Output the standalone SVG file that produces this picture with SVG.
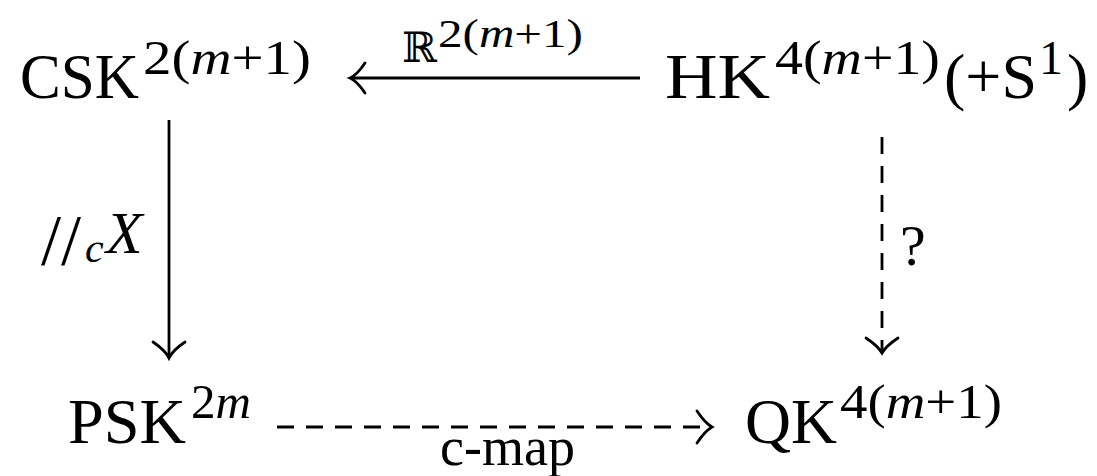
<svg xmlns="http://www.w3.org/2000/svg" width="1097" height="476" viewBox="0 0 1097 476">
<style>
text{font-family:"Liberation Serif","Times New Roman",serif;fill:#000}
.main{font-size:64px}
.sup{font-size:48px}
.lab{font-size:54px}
.it{font-style:italic}
.line{stroke:#000;stroke-width:2.8;fill:none}
.dash{stroke-dasharray:17 12}
.head{stroke:#000;stroke-width:2.8;fill:none;stroke-linecap:round}
</style>
<rect width="1097" height="476" fill="#fff"/>
<g id="connectors">
  <g id="e-top">
    <line class="line" x1="640" y1="78" x2="351" y2="78"/>
    <path class="head" d="M365,63 Q357,75 350,78 Q357,81 365,93"/>
  </g>
  <g id="e-left">
    <line class="line" x1="169" y1="120" x2="169" y2="356"/>
    <path class="head" d="M153,342 Q165,350 169,358 Q173,350 185,342"/>
  </g>
  <g id="e-right">
    <line class="line dash" x1="882" y1="137" x2="882" y2="350"/>
    <path class="head" d="M866,338 Q878,346 882,353 Q886,346 898,338"/>
  </g>
  <g id="e-bottom">
    <line class="line dash" x1="277" y1="427" x2="709" y2="427"/>
    <path class="head" d="M697,411 Q705,423 712,427 Q705,431 697,443"/>
  </g>
  <g id="labels">
    <text x="402" y="62" style="font-family:'DejaVu Serif',serif;font-size:42px">ℝ</text>
    <text x="438" y="47" style="font-size:40px" textLength="145" lengthAdjust="spacingAndGlyphs">2(<tspan class="it">m</tspan>+1)</text>
    <text x="41" y="264" style="font-size:72px">//</text>
    <text x="85" y="262" style="font-size:42px" class="it">c</text>
    <text x="106" y="253" style="font-size:60px" class="it">X</text>
    <text x="900" y="265" style="font-size:58px">?</text>
    <text x="440" y="465" class="lab">c-map</text>
  </g>
</g>
<g id="n-csk">
  <text x="20" y="98" class="main" textLength="119" lengthAdjust="spacingAndGlyphs">CSK</text>
  <text x="143" y="74" class="sup" textLength="168" lengthAdjust="spacingAndGlyphs">2(<tspan class="it">m</tspan>+1)</text>
</g>
<g id="n-hk">
  <text x="665" y="98" class="main" textLength="105" lengthAdjust="spacingAndGlyphs">HK</text>
  <text x="775" y="74" class="sup" textLength="165" lengthAdjust="spacingAndGlyphs">4(<tspan class="it">m</tspan>+1)</text>
  <text x="944" y="98" class="main">(+S</text>
  <text x="1039" y="74" class="sup">1</text>
  <text x="1067" y="98" class="main">)</text>
</g>
<g id="n-psk">
  <text x="68" y="443" class="main" textLength="118" lengthAdjust="spacingAndGlyphs">PSK</text>
  <text x="191" y="418" class="sup" textLength="60" lengthAdjust="spacingAndGlyphs">2<tspan class="it">m</tspan></text>
</g>
<g id="n-qk">
  <text x="745" y="443" class="main" textLength="92" lengthAdjust="spacingAndGlyphs">QK</text>
  <text x="840" y="418" class="sup" textLength="162" lengthAdjust="spacingAndGlyphs">4(<tspan class="it">m</tspan>+1)</text>
</g>
</svg>
